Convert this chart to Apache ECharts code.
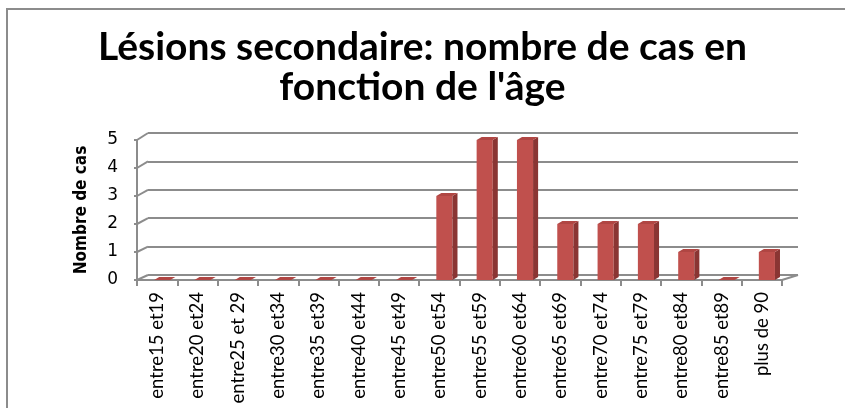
<!DOCTYPE html>
<html>
<head>
<meta charset="utf-8">
<script src="https://cdn.jsdelivr.net/npm/echarts@6/dist/echarts.min.js"></script>
<style>
  html, body { margin: 0; padding: 0; background: #fff; }
  #main { width: 845px; height: 408px; }
</style>
</head>
<body>
<div id="main"></div>
<script>
const categories = ['entre15 et19', 'entre20 et24', 'entre25 et 29', 'entre30 et34', 'entre35 et39',
  'entre40 et44', 'entre45 et49', 'entre50 et54', 'entre55 et59', 'entre60 et64', 'entre65 et69',
  'entre70 et74', 'entre75 et79', 'entre80 et84', 'entre85 et89', 'plus de 90'];
const cases = [0, 0, 0, 0, 0, 0, 0, 3, 5, 5, 2, 2, 2, 1, 0, 1];
const yTicks = [0, 1, 2, 3, 4, 5];

const chartDom = document.getElementById('main');
const myChart = echarts.init(chartDom, null, { renderer: 'canvas' });

const frontColor = '#C0504D';
const sideColor = '#8A3533';
const topColor = '#B04643';

// fake 3d column: front face, right side, top
function renderBar(params, api) {
  const v = api.value(1);
  const p = api.coord([api.value(0), v]);
  const b = api.coord([api.value(0), 0]);
  const w = api.size([1, 0])[0];
  const x0 = p[0] - w * 0.075;
  const x1 = x0 + w * 0.4;
  const dx = w * 0.125;
  const dy = -3;
  const children = [];
  if (b[1] - p[1] > 0.5) {
    children.push({
      type: 'polygon',
      shape: { points: [[x0, p[1]], [x1, p[1]], [x1, b[1]], [x0, b[1]]] },
      style: { fill: frontColor }
    });
    children.push({
      type: 'polygon',
      shape: { points: [[x1, p[1]], [x1 + dx, p[1] + dy], [x1 + dx, b[1] + dy], [x1, b[1]]] },
      style: { fill: sideColor }
    });
  }
  children.push({
    type: 'polygon',
    shape: { points: [[x0, p[1]], [x1, p[1]], [x1 + dx, p[1] + dy], [x0 + dx, p[1] + dy]] },
    style: { fill: topColor }
  });
  return { type: 'group', children: children };
}

const option = {
  animation: false,
  title: {
    text: 'Lésions secondaire: nombre de cas en\nfonction de l\'âge',
    left: 'center',
    top: 22,
    textStyle: {
      fontFamily: 'Lato',
      fontWeight: 'bold',
      fontSize: 39,
      lineHeight: 40,
      color: '#000'
    }
  },
  grid: [
    { left: 137, right: 63, top: 140, bottom: 128 },
    { left: 148, right: 47, top: 133, bottom: 133 }
  ],
  xAxis: [
    {
      type: 'category',
      gridIndex: 0,
      data: categories,
      axisLine: { lineStyle: { color: '#8c8c8c', width: 2 } },
      axisTick: { show: true, length: 6, lineStyle: { color: '#8c8c8c', width: 2 } },
      axisLabel: {
        rotate: 90,
        interval: 0,
        margin: 12,
        fontFamily: 'Lato',
        fontSize: 18.5,
        color: '#000'
      }
    },
    {
      type: 'category',
      gridIndex: 1,
      data: categories,
      show: false
    }
  ],
  yAxis: [
    {
      type: 'value',
      gridIndex: 0,
      min: 0,
      max: 5,
      interval: 1,
      name: 'Nombre de cas',
      nameLocation: 'middle',
      nameGap: 47,
      nameTextStyle: {
        fontFamily: 'Liberation Sans Narrow, DejaVu Sans Condensed, sans-serif',
        fontWeight: 'bold',
        fontSize: 17,
        color: '#000'
      },
      axisLine: { show: true, lineStyle: { color: '#8c8c8c', width: 2 } },
      axisTick: { show: true, length: 3, lineStyle: { color: '#8c8c8c', width: 2 } },
      axisLabel: {
        margin: 19,
        fontFamily: 'DejaVu Sans',
        fontSize: 17,
        color: '#000'
      },
      splitLine: { show: false }
    },
    {
      type: 'value',
      gridIndex: 1,
      min: 0,
      max: 5,
      interval: 1,
      axisLine: { show: false },
      axisTick: { show: false },
      axisLabel: { show: false },
      splitLine: { show: true, lineStyle: { color: '#8c8c8c', width: 2 } }
    }
  ],
  series: [
    {
      type: 'custom',
      xAxisIndex: 0,
      yAxisIndex: 0,
      renderItem: renderBar,
      data: cases.map((v, i) => [i, v]),
      z: 10
    }
  ]
};
myChart.setOption(option);

// side wall and floor edges, from the two grids
const edges = [];
const lineStyle = { stroke: '#8c8c8c', lineWidth: 2 };
yTicks.forEach(t => {
  const fy = myChart.convertToPixel({ yAxisIndex: 0 }, t);
  const by = myChart.convertToPixel({ yAxisIndex: 1 }, t);
  edges.push({ type: 'line', shape: { x1: 137, y1: fy, x2: 148, y2: by }, style: lineStyle, z: 5 });
});
const f0 = myChart.convertToPixel({ yAxisIndex: 0 }, 0);
const b0 = myChart.convertToPixel({ yAxisIndex: 1 }, 0);
edges.push({ type: 'line', shape: { x1: 845 - 63, y1: f0, x2: 845 - 47, y2: b0 }, style: lineStyle, z: 5 });
// outer frame
edges.push({ type: 'line', shape: { x1: 6, y1: 9, x2: 845, y2: 9 }, style: lineStyle });
edges.push({ type: 'line', shape: { x1: 7, y1: 8, x2: 7, y2: 408 }, style: lineStyle });
myChart.setOption({ graphic: edges });
</script>
</body>
</html>
